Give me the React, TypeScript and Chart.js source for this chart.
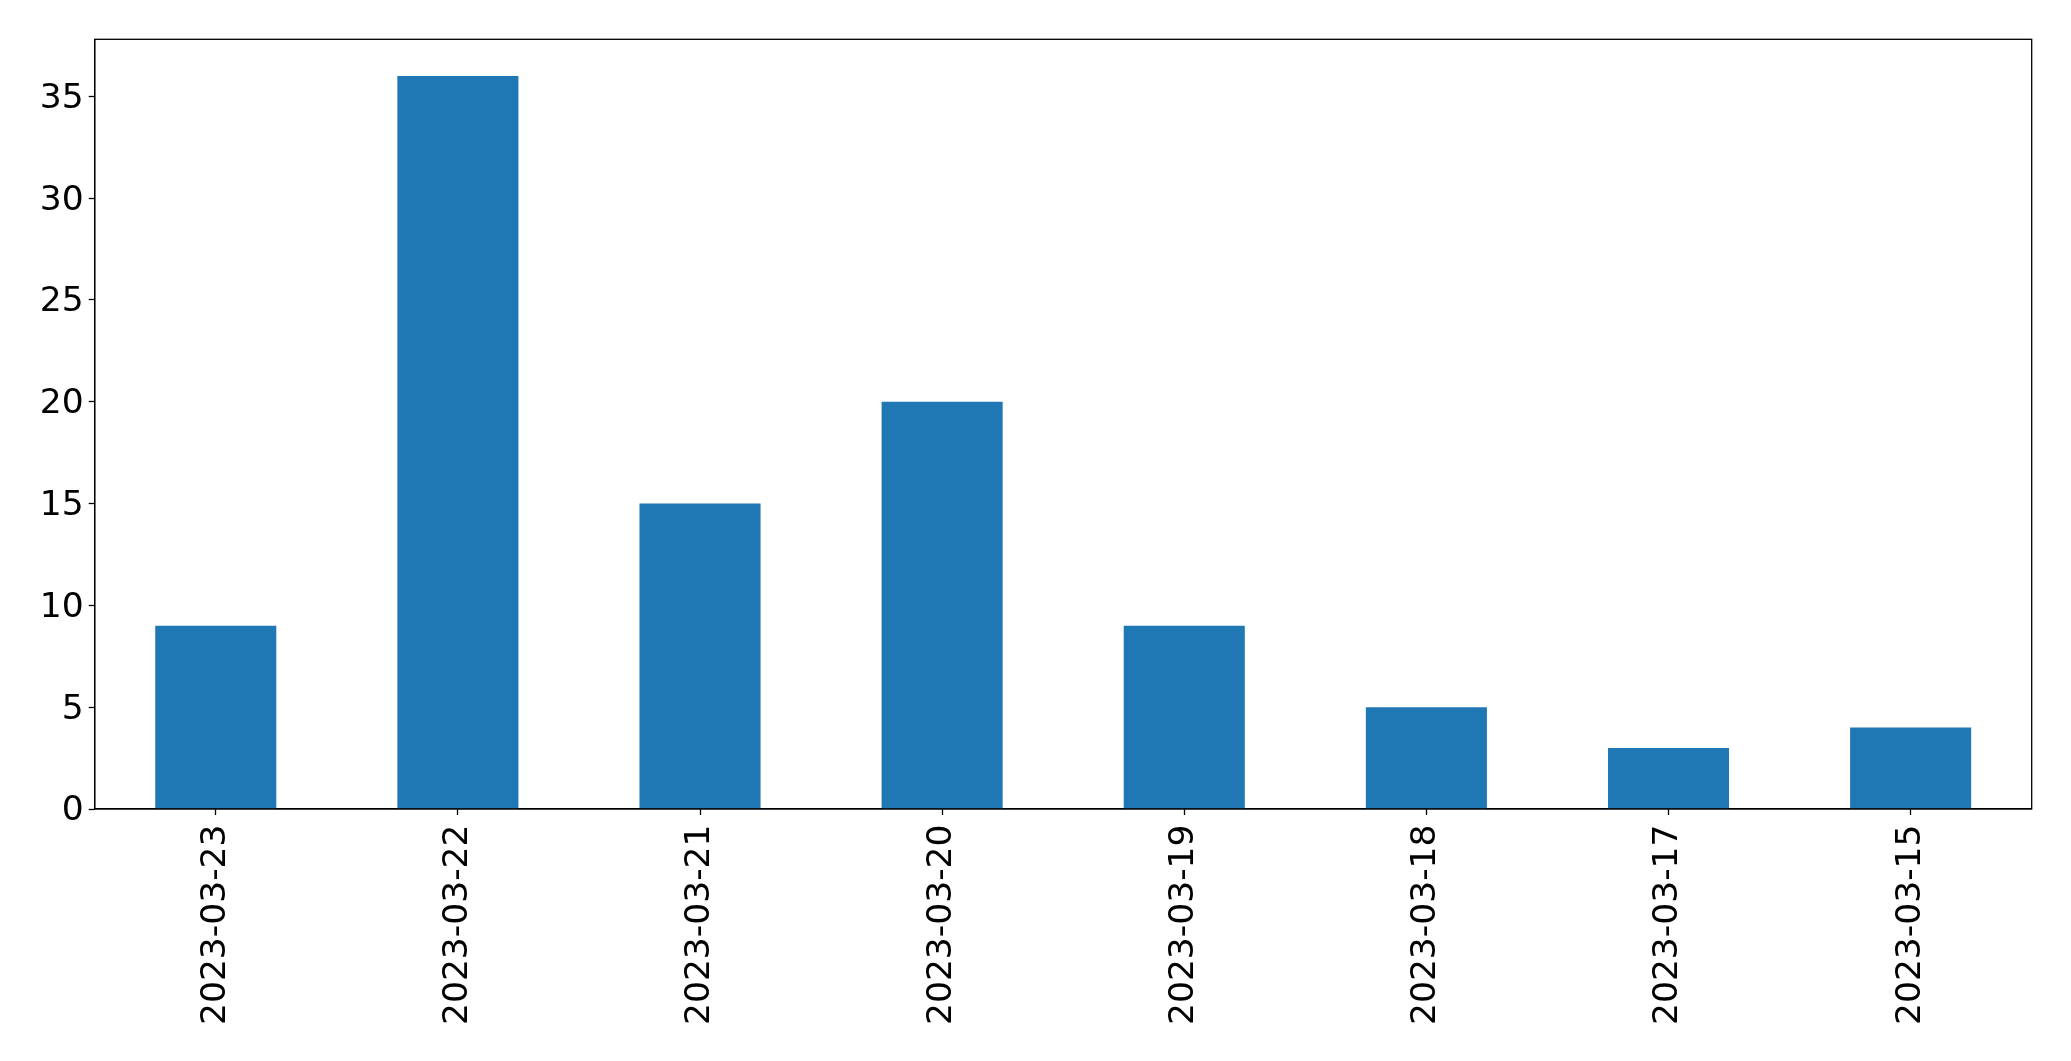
import React, { useEffect, useRef } from "react";
import { Chart, registerables } from "chart.js";

Chart.register(...registerables);

const categories = [
  "2023-03-23",
  "2023-03-22",
  "2023-03-21",
  "2023-03-20",
  "2023-03-19",
  "2023-03-18",
  "2023-03-17",
  "2023-03-15",
];
const counts = [9, 36, 15, 20, 9, 5, 3, 4];
const yMax = 37.8;
const yStep = 5;

const W = 2071;
const H = 1061;
const FONT = "'DejaVu Sans', sans-serif";

const frame = {
  id: "frame",
  afterDraw(chart: any) {
    const { ctx, chartArea } = chart;
    ctx.save();
    ctx.strokeStyle = "#000";
    ctx.lineWidth = 1.3;
    ctx.strokeRect(chartArea.left, chartArea.top, chartArea.right - chartArea.left, chartArea.bottom - chartArea.top);
    ctx.restore();
  },
};

export default function App() {
  const ref = useRef<HTMLCanvasElement>(null);
  useEffect(() => {
    if (!ref.current) return;
    const chart = new Chart(ref.current, {
      type: "bar",
      data: {
        labels: categories,
        datasets: [
          {
            data: counts,
            backgroundColor: "#1f77b4",
            borderWidth: 0,
            barPercentage: 0.5,
            categoryPercentage: 1,
          },
        ],
      },
      plugins: [frame],
      options: {
        animation: false,
        responsive: false,
        devicePixelRatio: 1,
        layout: { padding: { left: 0, top: 39.3, right: 39.3, bottom: 0 } },
        plugins: { legend: { display: false }, tooltip: { enabled: false } },
        scales: {
          x: {
            offset: true,
            grid: { offset: false, drawOnChartArea: false, tickLength: 6, tickWidth: 1.3, tickColor: "#000" },
            border: { color: "#000", width: 1.3 },
            ticks: {
              autoSkip: false,
              maxRotation: 90,
              minRotation: 90,
              padding: 9.5,
              color: "#000",
              font: { family: FONT, size: 34.5 },
            },
            afterFit: (s: any) => {
              s.height = H - 809;
            },
          },
          y: {
            min: 0,
            max: yMax,
            grid: { drawOnChartArea: false, tickLength: 6, tickWidth: 1.3, tickColor: "#000" },
            border: { color: "#000", width: 1.3 },
            ticks: {
              stepSize: yStep,
              includeBounds: false,
              padding: 5,
              labelOffset: 2.5,
              color: "#000",
              font: { family: FONT, size: 34.5 },
            },
            afterFit: (s: any) => {
              s.width = 94.7;
            },
          },
        },
      },
    });
    return () => chart.destroy();
  }, []);
  return (
    <div style={{ position: "fixed", left: 0, top: 0, width: W, height: H, background: "#fff" }}>
      <canvas ref={ref} width={W} height={H} style={{ width: W, height: H }} />
    </div>
  );
}
